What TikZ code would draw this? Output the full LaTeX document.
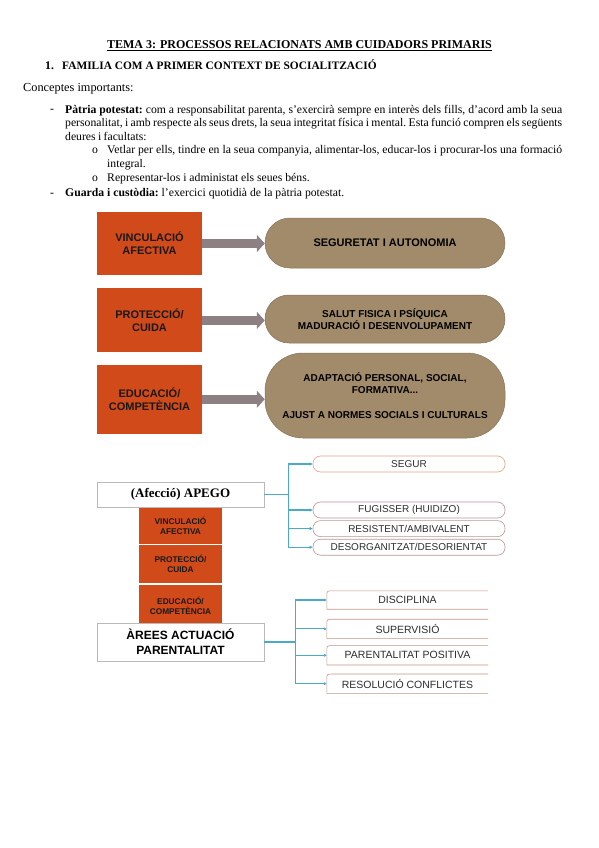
\documentclass[tikz,border=0pt]{standalone}
\usepackage{fontspec}
\setmainfont{Liberation Serif}
\setsansfont{Liberation Sans}
\usetikzlibrary{arrows.meta, positioning, calc}
\definecolor{taronja}{RGB}{209,74,26}
\definecolor{terra}{RGB}{161,139,106}
\definecolor{terravora}{RGB}{135,115,88}
\definecolor{fletxa}{RGB}{140,128,131}
\definecolor{blaucon}{RGB}{75,170,198}
\definecolor{vora}{RGB}{185,150,150}
\definecolor{voraseg}{RGB}{236,160,128}
\definecolor{voratab}{RGB}{195,150,135}
\definecolor{textgris}{RGB}{45,45,45}
\newcommand\estret{\spaceskip=0.2em plus 0.6em minus 0.08em\relax\strut}
\tikzset{
  cos/.style     ={font=\fontsize{11.7}{13.6}\selectfont\frenchspacing, inner sep=0pt},
  linia/.style   ={cos, anchor=base west},
  paragraf/.style={cos, text width=497pt, align=justify, anchor=north west},
  caixa/.style   ={fill=taronja, minimum width=105pt, inner sep=0pt, align=center, text=black!90,
                   font=\sffamily\bfseries\fontsize{11}{13}\selectfont},
  pastilla/.style={fill=terra, draw=terravora, line width=0.5pt, minimum width=240pt, inner sep=0pt,
                   align=center, font=\sffamily\bfseries\fontsize{10}{12}\selectfont},
  gruix/.style   ={-{Triangle[length=8pt, width=17pt]}, line width=9pt, draw=fletxa},
  capsa/.style   ={draw=gray!55, fill=white, line width=0.8pt, minimum width=167pt, inner sep=0pt, align=center},
  caixeta/.style ={fill=taronja, minimum width=83pt, inner sep=0pt, align=center, text=black!90,
                   font=\sffamily\bfseries\fontsize{8.3}{10}\selectfont},
  opcio/.style   ={draw=vora, fill=white, line width=0.6pt, rounded corners=7.5pt, minimum width=192pt,
                   minimum height=16pt, inner sep=0pt, font=\sffamily\fontsize{10}{11}\selectfont, text=textgris},
  pestanya/.style={minimum width=161pt, minimum height=19pt, inner sep=0pt,
                   font=\sffamily\fontsize{10.5}{12}\selectfont, text=textgris},
  llisto/.style  ={draw=voratab, line width=0.6pt},
  tronc/.style   ={draw=blaucon, line width=1.8pt},
  branca/.style  ={draw=blaucon, line width=1.1pt, -{Latex[length=3pt, width=3.5pt]}},
}
\begin{document}
\begin{tikzpicture}[x=1pt, y=-1pt]
  \path[fill=white, use as bounding box] (0,0) rectangle (599,848);

  \node[cos, anchor=base, font=\fontsize{12}{14}\selectfont] (titol) at (299.5,49) {\bfseries\underline{TEMA 3: PROCESSOS RELACIONATS AMB CUIDADORS PRIMARIS}};
  \node[linia] (num) at (45,70) {\bfseries 1.};
  \node[linia, font=\fontsize{11.4}{13.6}\selectfont] (apartat) at (62,70) {\bfseries FAMILIA COM A PRIMER CONTEXT DE SOCIALITZACIÓ};
  \node[linia, font=\fontsize{12.3}{13.6}\selectfont] (conc) at (23,92) {Conceptes importants:};
  \node[linia] (guio1) at (50,113) {-};
  \node[paragraf] (patria) at (65,103.5) {\estret\textbf{Pàtria potestat:} com a responsabilitat parenta, s’exercirà sempre en interès dels fills, d’acord amb la seua\linebreak
    personalitat, i amb respecte als seus drets, la seua integritat física i mental. Esta funció compren els següents\linebreak
    deures i facultats:};
  \node[linia] (punt1) at (92,153.5) {o};
  \node[paragraf, text width=455pt] (vetlar) at (107,144) {\estret Vetlar per ells, tindre en la seua companyia, alimentar-los, educar-los i procurar-los una formació\linebreak integral.};
  \node[linia] (punt2) at (92,181) {o};
  \node[linia] (repres) at (107,181) {Representar-los i administat els seues béns.};
  \node[linia] (guio2) at (50,196) {-};
  \node[linia] (guarda) at (65,196) {\textbf{Guarda i custòdia:} l’exercici quotidià de la pàtria potestat.};

  \node[caixa, minimum height=63pt] (vinc) at (149.5,243.5) {VINCULACIÓ\\AFECTIVA};
  \node[caixa, minimum height=64pt, below=13pt of vinc] (prot) {PROTECCIÓ/\\CUIDA};
  \node[caixa, minimum height=69pt, below=12pt of prot] (educ) {EDUCACIÓ/\\COMPETÈNCIA};
  \node[pastilla, minimum height=50pt, rounded corners=24.9pt, font=\sffamily\bfseries\fontsize{11}{13}\selectfont] (segu) at (385,243) {SEGURETAT I AUTONOMIA};
  \node[pastilla, minimum height=48pt, rounded corners=23.9pt] (salut) at (385,319) {SALUT FISICA I PSÍQUICA\\MADURACIÓ I DESENVOLUPAMENT};
  \node[pastilla, minimum height=85pt, rounded corners=38pt] (adapt) at (385,395.5) {ADAPTACIÓ PERSONAL, SOCIAL,\\FORMATIVA...\\[13pt]AJUST A NORMES SOCIALS I CULTURALS};
  \draw[gruix] (vinc.east) -- (vinc.east -| segu.west);
  \draw[gruix] (prot.east) -- (prot.east -| salut.west);
  \draw[gruix] (educ.east) -- (educ.east -| adapt.west);

  \node[capsa, minimum height=25pt, font=\bfseries\fontsize{13}{15}\selectfont] (apego) at (180.5,494.5) {(Afecció) APEGO};
  \node[caixeta, minimum height=36pt, below=0pt of apego] (vinc2) {VINCULACIÓ\\AFECTIVA};
  \node[caixeta, minimum height=38pt, below=1pt of vinc2] (prot2) {PROTECCIÓ/\\CUIDA};
  \node[caixeta, minimum height=41pt, below=2pt of prot2] (educ2) {EDUCACIÓ/\\COMPETÈNCIA};
  \node[capsa, minimum height=38pt, font=\sffamily\bfseries\fontsize{12}{15}\selectfont] (arees) at (180.5,642) {ÀREES ACTUACIÓ\\PARENTALITAT};

  \node[opcio, draw=voraseg] (segur) at (409,464) {SEGUR};
  \node[opcio] (fugis) at (409,510) {FUGISSER (HUIDIZO)};
  \node[opcio, below=2pt of fugis] (resis) {RESISTENT/AMBIVALENT};
  \node[opcio, below=2pt of resis] (desorg) {DESORGANITZAT/DESORIENTAT};
  \coordinate (nusA) at ($(apego.east)+(24,0)$);
  \draw[tronc] (apego.east) -- (nusA);
  \foreach \o in {segur,fugis,resis,desorg}
    \draw[branca] (nusA) |- (\o.west);

  \node[pestanya, minimum height=18pt] (disc) at (407.5,600) {DISCIPLINA};
  \node[pestanya, below=10pt of disc] (superv) {SUPERVISIÓ};
  \node[pestanya, below=7pt of superv] (parent) {PARENTALITAT POSITIVA};
  \node[pestanya, below=9pt of parent] (resol) {RESOLUCIÓ CONFLICTES};
  \foreach \p in {disc,superv,parent,resol}
    \draw[llisto] (\p.north east) -- ([xshift=6pt]\p.north west) .. controls (\p.north west) .. ([yshift=-6pt]\p.north west)
      -- (\p.south west) -- (\p.south east);
  \coordinate (nusB) at ($(arees.east)+(31,0)$);
  \draw[tronc] (arees.east) -- (nusB);
  \foreach \p in {disc,superv,parent,resol}
    \draw[branca] (nusB) |- (\p.west);
\end{tikzpicture}
\end{document}
